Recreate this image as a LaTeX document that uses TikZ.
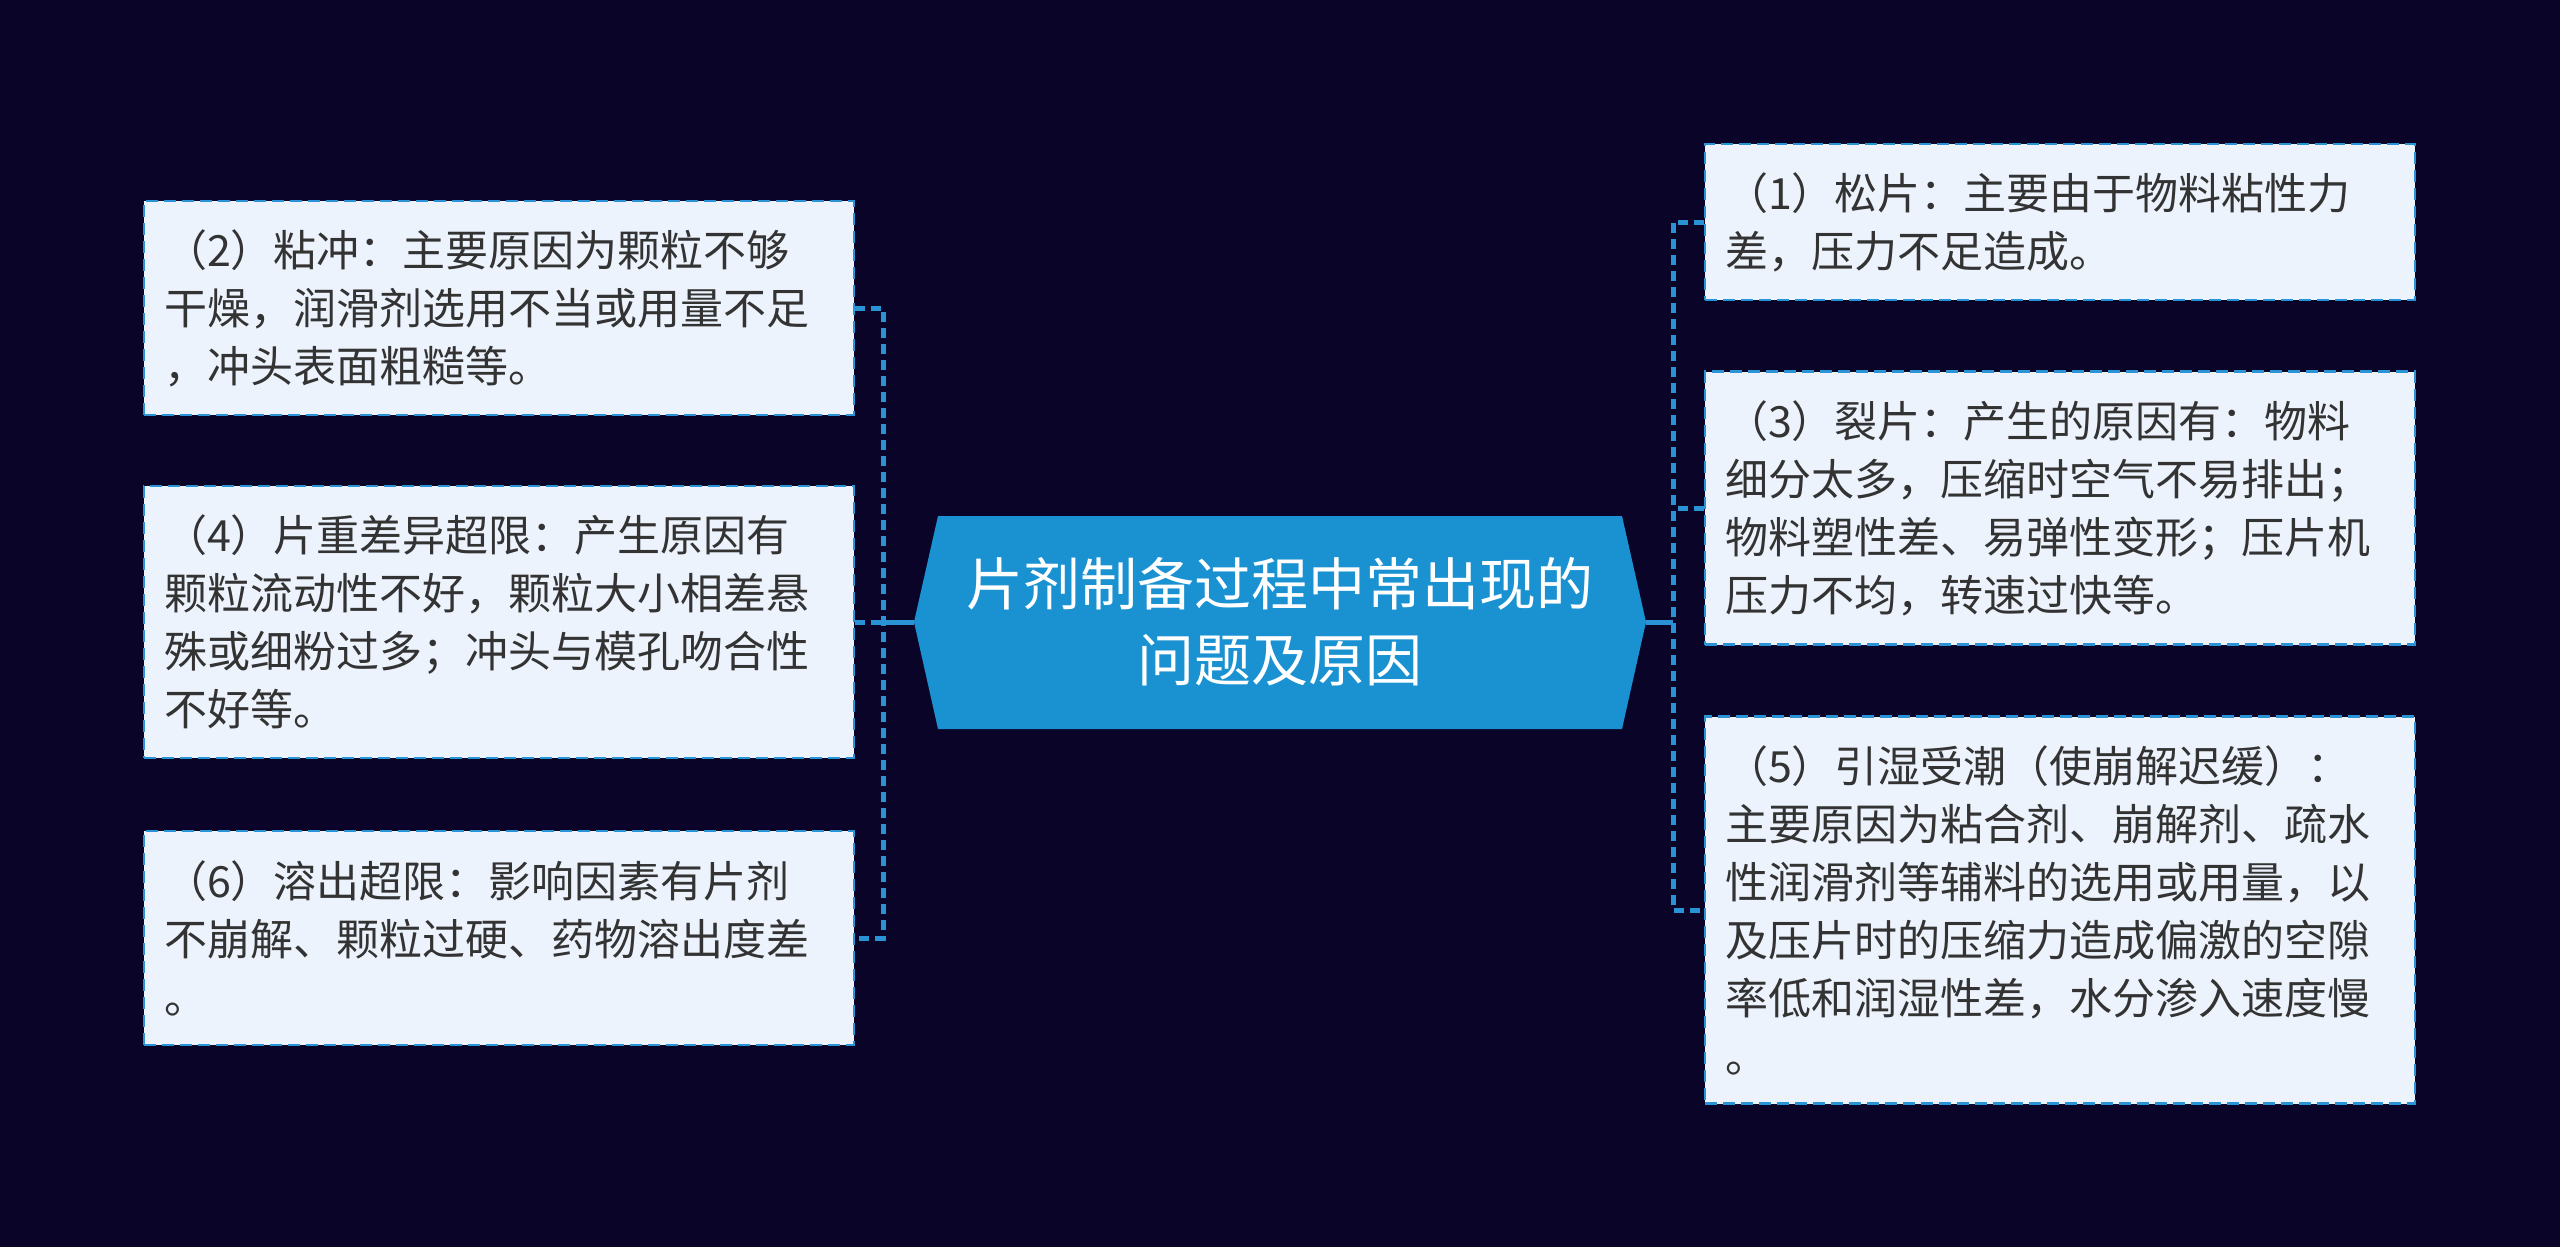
\documentclass[tikz,border=0pt]{standalone}
\usepackage{fontspec}
\setmainfont{Noto Sans CJK SC}
\definecolor{bgc}{HTML}{0A0528}
\definecolor{hubc}{HTML}{1A92D2}
\definecolor{linec}{HTML}{2A93D5}
\definecolor{boxc}{HTML}{EDF3FD}
\definecolor{txtc}{HTML}{333333}
\tikzset{
  leaf/.style={draw=linec, line width=1.2pt, dash pattern=on 6pt off 3pt, fill=boxc, text=txtc,
    font=\fontsize{21.5}{29}\selectfont, align=left, inner xsep=10pt, inner ysep=0pt,
    text width=335pt},
  conn/.style={draw=linec, line width=2.5pt, dash pattern=on 5pt off 3pt},
  mainconn/.style={draw=linec, line width=2.5pt},
  hubtext/.style={text=white, font=\fontsize{28.5}{38}\selectfont, align=center,
    minimum width=366pt, minimum height=107pt, inner sep=0pt}
}
\begin{document}
\begin{tikzpicture}[x=0.5pt,y=-0.5pt]
\fill[bgc] (0,0) rectangle (2560,1247);
\useasboundingbox (0,0) rectangle (2560,1247);
% hub shape
\fill[hubc] (914,622) -- (938,516) -- (1622,516) -- (1646,622) -- (1622,729) -- (938,729) -- cycle;
\node[hubtext] (hub) at (1280,622) {片剂制备过程中常出现的\\问题及原因};
% left boxes
\node[leaf, minimum height=107pt] (L1) at (499,308) {（2）粘冲：主要原因为颗粒不够\\干燥，润滑剂选用不当或用量不足\\，冲头表面粗糙等。};
\node[leaf, minimum height=136pt] (L2) at (499,622) {（4）片重差异超限：产生原因有\\颗粒流动性不好，颗粒大小相差悬\\殊或细粉过多；冲头与模孔吻合性\\不好等。};
\node[leaf, minimum height=107pt] (L3) at (499,938) {（6）溶出超限：影响因素有片剂\\不崩解、颗粒过硬、药物溶出度差\\。};
% right boxes
\node[leaf, minimum height=78pt] (R1) at (2060,222) {（1）松片：主要由于物料粘性力\\差，压力不足造成。};
\node[leaf, minimum height=136.5pt] (R2) at (2060,508) {（3）裂片：产生的原因有：物料\\细分太多，压缩时空气不易排出；\\物料塑性差、易弹性变形；压片机\\压力不均，转速过快等。};
\node[leaf, minimum height=193.5pt] (R3) at (2060,910) {（5）引湿受潮（使崩解迟缓）：\\主要原因为粘合剂、崩解剂、疏水\\性润滑剂等辅料的选用或用量，以\\及压片时的压缩力造成偏激的空隙\\率低和润湿性差，水分渗入速度慢\\。};
% connectors left
\coordinate (lj1) at (883,308);
\coordinate (lj2) at (883,622);
\coordinate (lj3) at (883,938);
\draw[conn] (L1.east) -- (lj1) -- (lj3) -- (L3.east);
\draw[conn] (L2.east) -- (lj2);
\draw[mainconn] (hub.west) -- (lj2);
% connectors right
\coordinate (rj1) at (1673,222);
\coordinate (rj2) at (1673,508);
\coordinate (rj3) at (1673,910);
\coordinate (rjh) at (1673,622);
\draw[conn] (R1.west) -- (rj1) -- (rj3) -- (R3.west);
\draw[conn] (R2.west) -- (rj2);
\draw[mainconn] (hub.east) -- (rjh);
\end{tikzpicture}
\end{document}
